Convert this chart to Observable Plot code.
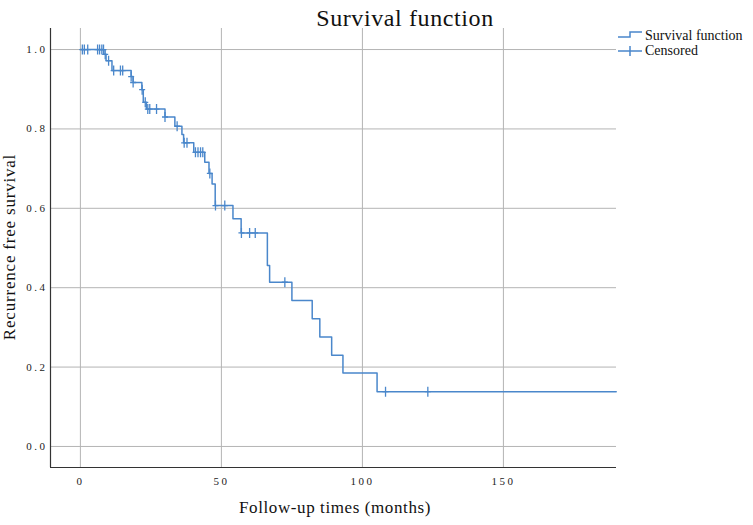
<!DOCTYPE html>
<html>
<head>
<meta charset="utf-8">
<script src="https://cdn.jsdelivr.net/npm/d3@7"></script>
<script src="https://cdn.jsdelivr.net/npm/@observablehq/plot@0.6"></script>
<style>
  html, body { margin: 0; padding: 0; background: #fff; }
  #chart svg { display: block; overflow: visible; }
  #chart g[aria-label="x-axis tick label"] text,
  #chart g[aria-label="y-axis tick label"] text { letter-spacing: 2.5px; }
</style>
</head>
<body>
<div id="chart"></div>
<script>
// Kaplan-Meier step function: event times (months) and survival after each step
const stepTimes    = [0, 8.3, 9.1, 11.2, 18.0, 18.7, 21.8, 22.3, 23.4, 30.0, 33.5, 36.0, 36.6, 40.2, 44.1, 45.6, 46.7, 47.8, 54.1, 57.0, 66.3, 67.1, 75.0, 82.2, 84.9, 89.1, 93.1, 105.2, 190];
const stepSurvival = [1.0, 0.988, 0.972, 0.947, 0.932, 0.917, 0.899, 0.867, 0.850, 0.830, 0.807, 0.786, 0.765, 0.741, 0.716, 0.688, 0.661, 0.607, 0.574, 0.538, 0.456, 0.414, 0.368, 0.322, 0.276, 0.230, 0.185, 0.138, 0.138];

// Censored observations
const censorTimes    = [0.7, 1.4, 2.6, 6.1, 6.8, 7.6, 8.2, 8.8, 10.0, 11.8, 14.2, 15.0, 18.0, 18.7, 21.9, 23.0, 23.9, 24.6, 27.0, 30.0, 34.3, 36.8, 37.8, 40.8, 41.7, 42.6, 43.4, 45.9, 47.9, 51.2, 57.1, 60.0, 62.0, 72.5, 108.2, 123.2];
const censorSurvival = [1.0, 1.0, 1.0, 1.0, 1.0, 1.0, 1.0, 0.988, 0.972, 0.947, 0.947, 0.947, 0.932, 0.917, 0.899, 0.867, 0.850, 0.850, 0.850, 0.830, 0.807, 0.765, 0.765, 0.741, 0.741, 0.741, 0.741, 0.688, 0.607, 0.607, 0.538, 0.538, 0.538, 0.414, 0.138, 0.138];

const xTicks = [0, 50, 100, 150];
const yTicks = [0, 0.2, 0.4, 0.6, 0.8, 1.0];

const title = "Survival function";
const xLabel = "Follow-up times (months)";
const yLabel = "Recurrence free survival";
const legendLabels = ["Survival function", "Censored"];

const steps = stepTimes.map((t, i) => ({t, s: stepSurvival[i]}));
const censors = censorTimes.map((t, i) => ({t, s: censorSurvival[i]}));

const blue = "#4a87cb";
const grid = "#b4b4b4";
const font = "'Liberation Serif', 'DejaVu Serif', serif";
const xDomain = [-10.6, 190.1];
const yDomain = [-0.053, 1.053];

const plusSymbol = {
  draw(ctx, size) {
    const r = Math.sqrt(size / Math.PI);
    ctx.moveTo(0, -r); ctx.lineTo(0, r);
    ctx.moveTo(-r * 0.6, 0); ctx.lineTo(r * 0.6, 0);
  }
};

const chart = Plot.plot({
  width: 753,
  height: 525,
  marginLeft: 50,
  marginRight: 137,
  marginTop: 28,
  marginBottom: 58,
  style: {fontFamily: font, fontSize: "11px", color: "#222", background: "#fff"},
  x: {domain: xDomain, label: null},
  y: {domain: yDomain, label: null},
  marks: [
    Plot.gridX(xTicks, {stroke: grid, strokeOpacity: 1, strokeWidth: 1}),
    Plot.gridY(yTicks, {stroke: grid, strokeOpacity: 1, strokeWidth: 1}),
    Plot.ruleX([xDomain[0]], {stroke: "#333", strokeWidth: 1.2}),
    Plot.ruleY([yDomain[0]], {stroke: "#333", strokeWidth: 1.2}),
    Plot.axisX(xTicks, {tickSize: 0, tickPadding: 10, label: null, fontSize: 11, fill: "#222"}),
    Plot.axisY(yTicks, {tickSize: 0, tickPadding: 3, tickFormat: d3.format(".1f"), label: null, fontSize: 11, fill: "#222"}),
    Plot.line(steps, {x: "t", y: "s", curve: "step-after", stroke: blue, strokeWidth: 1.5}),
    Plot.dot(censors, {x: "t", y: "s", symbol: plusSymbol, r: 5, stroke: blue, strokeWidth: 1.3, fill: "none"})
  ]
});

document.getElementById("chart").appendChild(chart);

const svg = d3.select(chart);
svg.append("text")
  .attr("x", 405).attr("y", 26)
  .attr("text-anchor", "middle")
  .attr("font-family", font).attr("font-size", 24).attr("fill", "#111")
  .attr("letter-spacing", 0.6)
  .text(title);

svg.append("text")
  .attr("x", 335).attr("y", 513)
  .attr("text-anchor", "middle")
  .attr("font-family", font).attr("font-size", 17).attr("fill", "#111")
  .attr("letter-spacing", 0.6)
  .text(xLabel);

svg.append("text")
  .attr("transform", "translate(15,247) rotate(-90)")
  .attr("text-anchor", "middle")
  .attr("font-family", font).attr("font-size", 17).attr("fill", "#111")
  .attr("letter-spacing", 0.8)
  .text(yLabel);

// Legend
const lg = svg.append("g").attr("font-family", font).attr("font-size", 14).attr("fill", "#111").attr("text-anchor", "start");
lg.append("path").attr("d", "M618,37H630V32H642").attr("fill", "none").attr("stroke", blue).attr("stroke-width", 1.5);
lg.append("text").attr("x", 645).attr("y", 40).attr("text-anchor", "start").text(legendLabels[0]);
lg.append("path").attr("d", "M618,51H642M630,46V56").attr("fill", "none").attr("stroke", blue).attr("stroke-width", 1.5);
lg.append("text").attr("x", 645).attr("y", 55).attr("text-anchor", "start").text(legendLabels[1]);
</script>
</body>
</html>
